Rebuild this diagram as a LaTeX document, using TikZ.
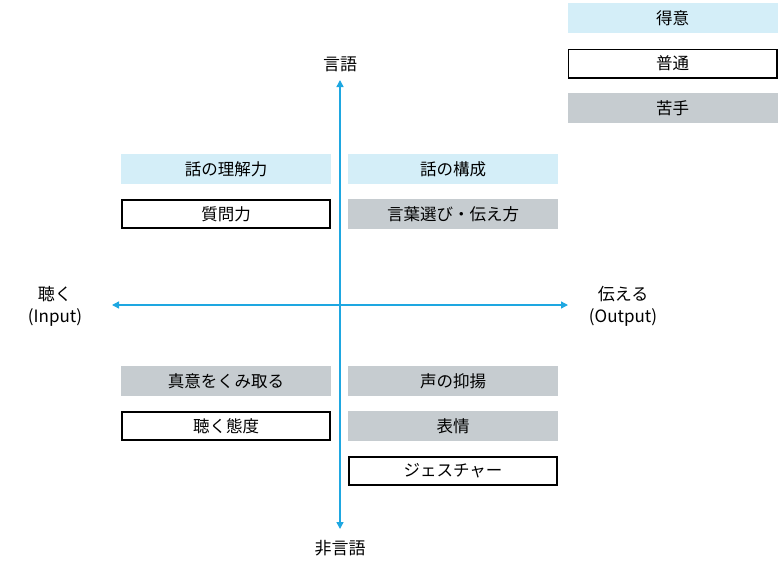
\documentclass[tikz,border=0pt]{standalone}
\usepackage{fontspec}
\usepackage{xcolor}
\setmainfont{Noto Sans CJK JP}
\definecolor{tokui}{HTML}{D4EEF8}
\definecolor{nigate}{HTML}{C6CCD0}
\definecolor{jiku}{HTML}{1EA7E1}
\usetikzlibrary{arrows.meta}

\tikzset{
  skill/.style={minimum width=210pt, minimum height=30pt, inner sep=0pt, font=\fontsize{16.5}{19}\selectfont},
  good/.style={skill, fill=tokui},
  normal/.style={skill, draw=black, line width=1.6pt, fill=white, minimum width=208.4pt, minimum height=28.4pt},
  weak/.style={skill, fill=nigate},
  axlabel/.style={align=center, font=\fontsize{17}{22}\selectfont},
  axis/.style={draw=jiku, line width=1.4pt, -{Triangle[length=7pt,width=7pt]}}
}

\begin{document}
\begin{tikzpicture}[x=1pt,y=-1pt]
                \useasboundingbox (0,0) rectangle (779,571);

                % legend
                \node[good]   (leg1) at (672.5,18)  {得意};
                \node[normal] (leg2) at (672.5,63.5) {普通};
                \node[weak]   (leg3) at (672.5,108) {苦手};

                % axes
                \coordinate (c) at (340,305);
                \coordinate (top) at (340,80);
                \coordinate (bottom) at (340,529);
                \coordinate (left) at (112,305);
                \coordinate (right) at (568,305);
                \draw[axis] (c) -- (top);
                \draw[axis] (c) -- (bottom);
                \draw[axis] (c) -- (left);
                \draw[axis] (c) -- (right);

                \node[axlabel] (verbal)    at (340,64)  {言語};
                \node[axlabel] (nonverbal) at (340,548) {非言語};
                \node[axlabel] (listen)    at (55,306)  {聴く\\(Input)};
                \node[axlabel] (tell)      at (623,306) {伝える\\(Output)};

                % upper left
                \node[good]   (rikai)   at (226,169) {話の理解力};
                \node[normal] (shitsumon) at (226,214) {質問力};

                % upper right
                \node[good]   (kousei)  at (453,169) {話の構成};
                \node[weak]   (kotoba)  at (453,214) {言葉選び・伝え方};

                % lower left
                \node[weak]   (shini)   at (226,381) {真意をくみ取る};
                \node[normal] (taido)   at (226,426) {聴く態度};

                % lower right
                \node[weak]   (yokuyou) at (453,381) {声の抑揚};
                \node[weak]   (hyoujou) at (453,426) {表情};
                \node[normal] (gesture) at (453,471) {ジェスチャー};
\end{tikzpicture}
\end{document}
